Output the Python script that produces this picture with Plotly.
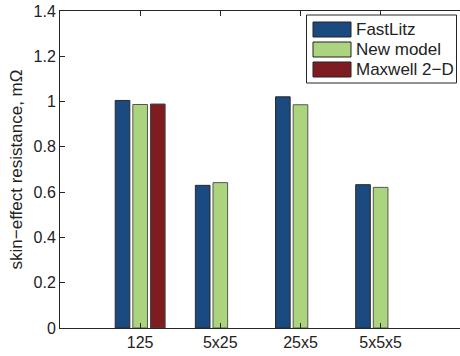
import plotly.graph_objects as go

categories = ["125", "5x25", "25x5", "5x5x5"]
series_names = ["FastLitz", "New model", "Maxwell 2\u2212D"]
fastlitz = [1.005, 0.630, 1.021, 0.633]
new_model = [0.987, 0.642, 0.986, 0.621]
maxwell = [0.989, None, None, None]
colors = ["#1a4a7f", "#acd47f", "#7e1c1f"]
edge_colors = ["#2a2a2a", "#555555", "#444444"]
y_ticks = [0, 0.2, 0.4, 0.6, 0.8, 1.0, 1.2, 1.4]

FONT = "Liberation Sans, Arial, sans-serif"
TXT = "#222222"
W, H = 460, 356
ML, MR, MT, MB = 60, 0, 11, 28

fig = go.Figure()
for name, vals, c, ec in zip(series_names, [fastlitz, new_model, maxwell], colors, edge_colors):
    fig.add_trace(go.Bar(x=categories, y=vals, name=name, marker=dict(color=c, line=dict(color=ec, width=1)),
                         showlegend=False))

fig.update_layout(
    width=W, height=H,
    margin=dict(l=ML, r=MR, t=MT, b=MB, pad=0),
    paper_bgcolor="white", plot_bgcolor="white",
    barmode="group", bargap=0.34, bargroupgap=0.17,
    font=dict(family=FONT, size=16, color=TXT),
    xaxis=dict(
        type="category", range=[-1, 3.99],
        showline=True, linecolor="#262626", linewidth=1, mirror="ticks",
        ticks="inside", ticklen=5, tickcolor="#262626",
        showgrid=False, zeroline=False, automargin=False,
        tickfont=dict(size=16, family=FONT, color=TXT),
    ),
    yaxis=dict(
        range=[0, 1.4], tickvals=y_ticks,
        showline=True, linecolor="#262626", linewidth=1, mirror=False,
        ticks="inside", ticklen=5, tickcolor="#262626",
        showgrid=False, zeroline=False, automargin=False,
        tickfont=dict(size=16, family=FONT, color=TXT),
        title=dict(text="skin\u2212effect resistance, m\u03a9", standoff=6,
                   font=dict(size=17, family=FONT, color=TXT)),
    ),
    yaxis2=dict(
        overlaying="y", side="right", range=[0, 1.4], tickvals=y_ticks,
        showticklabels=False, ticks="inside", ticklen=5, tickcolor="#262626",
        showline=False, showgrid=False, zeroline=False, automargin=False,
    ),
)

# manual MATLAB-style legend (paper coordinates from pixel positions)
pw, ph = W - ML - MR, H - MT - MB
def px(x):
    return (x - ML) / pw
def py(y):
    return (H - MB - y) / ph

fig.add_shape(type="rect", xref="paper", yref="paper",
              x0=px(306.5), x1=px(456.5), y0=py(83), y1=py(15),
              line=dict(color="#262626", width=1), fillcolor="white", layer="above")
for i, (name, c, ec) in enumerate(zip(series_names, colors, edge_colors)):
    top = 22 + 20 * i
    fig.add_shape(type="rect", xref="paper", yref="paper",
                  x0=px(313), x1=px(351), y0=py(top + 15), y1=py(top),
                  line=dict(color="#222222", width=1), fillcolor=c, layer="above")
    fig.add_annotation(xref="paper", yref="paper", x=px(354), y=py(top + 7.5),
                       text=name, showarrow=False, xanchor="left", yanchor="middle",
                       font=dict(size=17, family=FONT, color=TXT))

fig.write_html("out.html", config=dict(displayModeBar=False))
